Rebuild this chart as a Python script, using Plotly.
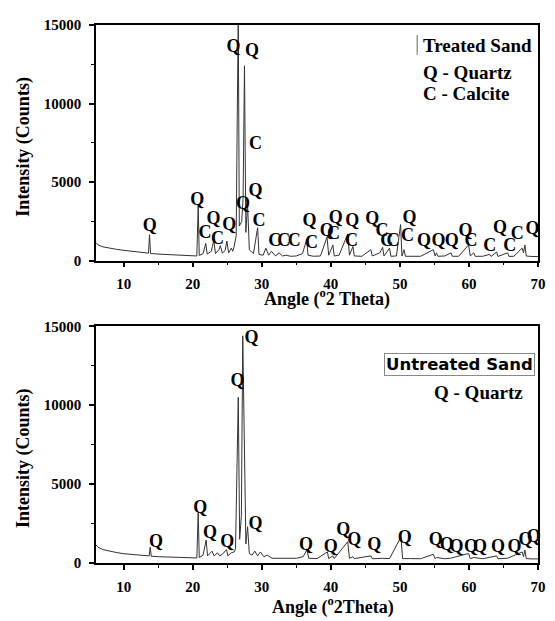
import plotly.graph_objects as go

# ---------------- data ----------------
treated_angle = [6.0, 6.3, 7.0, 8.0, 9.0, 10.0, 11.0, 12.0, 13.0, 13.6, 13.75, 13.9, 15.0, 16.5, 18.0, 19.5,
                 20.6, 20.8, 20.95, 21.5, 21.9, 22.1, 22.7, 23.05, 23.3, 23.8, 24.0, 24.3, 24.7, 24.95, 25.2,
                 25.6, 25.8, 26.0, 26.3, 26.45, 26.6, 26.75, 27.1, 27.3, 27.5, 27.7, 27.95, 28.2, 28.8, 29.4,
                 29.6, 30.2, 30.6, 31.0, 31.4, 32.0, 32.5, 33.0, 33.5, 34.2, 35.0, 35.9, 36.5, 36.7, 37.5,
                 38.5, 39.45, 39.7, 40.3, 40.5, 41.2, 42.45, 42.7, 43.2, 43.4, 44.5, 45.8, 46.0, 47.1, 47.5,
                 47.7, 48.5, 48.7, 49.5, 50.1, 50.3, 50.6, 50.8, 52.0, 53.0, 54.85, 55.1, 55.3, 55.5, 56.5,
                 57.4, 57.6, 58.5, 59.95, 60.2, 60.7, 60.9, 62.0, 63.0, 63.2, 64.0, 64.2, 65.6, 65.8, 66.5,
                 67.7, 67.9, 68.1, 68.3, 69.0, 70.0]
treated_counts = [1150, 1000, 880, 790, 720, 660, 600, 550, 500, 480, 1650, 460, 420, 380, 340, 310,
                  300, 3500, 330, 450, 1100, 420, 600, 1300, 450, 700, 950, 480, 650, 1250, 500,
                  800, 600, 900, 1600, 9000, 15500, 2200, 2500, 4000, 12400, 1800, 3600, 700, 450, 2100,
                  400, 350, 800, 350, 600, 300, 500, 300, 350, 280, 300, 450, 1350, 350, 280,
                  300, 1500, 350, 1000, 300, 350, 1700, 350, 900, 300, 280, 700, 300, 500, 850,
                  300, 800, 280, 300, 2300, 300, 700, 280, 300, 280, 700, 300, 500, 280, 300,
                  500, 280, 280, 1000, 300, 500, 280, 280, 400, 270, 550, 270, 500, 270, 280,
                  800, 500, 1000, 300, 270, 260]

untreated_angle = [6.0, 6.3, 7.0, 8.0, 9.0, 10.0, 11.0, 12.0, 13.0, 13.7, 13.85, 14.0, 15.0, 16.5, 18.0, 19.5,
                   20.6, 20.8, 20.95, 21.5, 21.95, 22.15, 22.8, 23.1, 23.6, 23.9, 24.3, 24.9, 25.1, 25.6,
                   26.0, 26.2, 26.4, 26.6, 26.8, 27.05, 27.25, 27.45, 27.7, 27.95, 28.2, 28.6, 29.0, 29.4,
                   29.8, 30.3, 30.8, 31.5, 32.5, 33.5, 35.0, 36.0, 36.55, 36.8, 38.0, 39.5, 39.7, 40.3,
                   40.5, 42.45, 42.7, 43.2, 43.4, 45.8, 46.0, 47.5, 48.5, 50.15, 50.4, 51.5, 53.0, 54.85,
                   55.1, 55.3, 56.5, 57.3, 59.95, 60.2, 60.7, 62.0, 64.0, 64.2, 65.6, 67.7, 67.9, 68.1,
                   68.3, 69.0, 70.0]
untreated_counts = [1150, 1000, 850, 740, 660, 590, 540, 500, 470, 450, 1000, 430, 400, 370, 340, 320,
                    320, 3200, 350, 500, 1450, 450, 750, 450, 650, 450, 550, 850, 450, 650,
                    700, 900, 7400, 10500, 1500, 3000, 14400, 8800, 1200, 2300, 600, 500, 750, 450,
                    700, 400, 500, 300, 300, 280, 300, 400, 850, 300, 280, 700, 280, 450,
                    280, 1350, 300, 400, 280, 450, 270, 300, 280, 1650, 280, 280, 270, 550,
                    270, 350, 270, 300, 600, 270, 350, 270, 450, 270, 300, 700, 400, 820,
                    280, 260, 260]

# peak labels: (text, angle, counts)
treated_label_text = ["Q", "Q", "C", "Q", "Q", "Q", "Q", "C", "C", "Q", "Q", "C",
                      "C", "C", "C", "C", "Q", "Q", "C", "Q", "Q", "C", "Q", "C", "C", "C",
                      "Q", "C", "Q", "Q", "Q", "Q", "C", "C", "Q", "C", "C", "Q"]
treated_label_x = [25.9, 28.6, 29.1, 13.8, 20.65, 23.0, 25.3, 21.8, 23.6, 27.3, 29.1, 29.6,
                   31.9, 33.2, 34.7, 37.2, 36.9, 39.4, 40.4, 40.7, 43.1, 43.0, 46.0, 47.4, 48.1, 49.0,
                   51.4, 51.1, 53.5, 55.6, 57.5, 59.5, 60.3, 63.0, 64.5, 65.9, 67.0, 69.2]
treated_label_y = [13600, 13300, 7400, 2150, 3860, 2650, 2250, 1700, 1330, 3550, 4430, 2470,
                   1200, 1200, 1200, 1100, 2470, 1830, 1640, 2660, 2470, 1200, 2590, 1830, 1200, 1200,
                   2660, 1520, 1200, 1200, 1200, 1830, 1200, 890, 2020, 890, 1640, 1960]

untreated_label_x = [14.7, 21.1, 22.5, 25.0, 26.5, 28.5, 29.1, 36.4, 40.0, 41.8, 43.4, 46.3, 50.7,
                     55.2, 56.8, 58.2, 60.3, 61.6, 64.2, 66.6, 68.2, 69.4]
untreated_label_y = [1320, 3470, 1890, 1320, 11530, 14240, 2460, 1130, 1010, 2080, 1450, 1130, 1580,
                     1450, 1130, 1010, 1010, 1010, 1010, 1010, 1450, 1640]

x_ticks = [10, 20, 30, 40, 50, 60, 70]
y_ticks = [0, 5000, 10000, 15000]

# ---------------- figure ----------------
SERIF = "Liberation Serif"
LINE = "#333333"

fig = go.Figure()
fig.add_trace(go.Scatter(x=treated_angle, y=treated_counts, mode="lines",
                         line=dict(color=LINE, width=1), xaxis="x", yaxis="y", showlegend=False))
fig.add_trace(go.Scatter(x=untreated_angle, y=untreated_counts, mode="lines",
                         line=dict(color=LINE, width=1), xaxis="x2", yaxis="y2", showlegend=False))

label_font = dict(family=SERIF, size=18, color="black", weight="bold")
fig.add_trace(go.Scatter(x=treated_label_x, y=treated_label_y, mode="text", text=treated_label_text,
                         textfont=label_font, xaxis="x", yaxis="y", showlegend=False, cliponaxis=False))
fig.add_trace(go.Scatter(x=untreated_label_x, y=untreated_label_y, mode="text",
                         text=["Q"] * len(untreated_label_x), textfont=label_font,
                         xaxis="x2", yaxis="y2", showlegend=False, cliponaxis=False))

tickfont = dict(family=SERIF, size=15, color="black", weight="bold")

def xax(anchor):
    return dict(range=[6, 70], tickvals=x_ticks, ticktext=[str(v) for v in x_ticks],
                showline=True, linecolor="black", linewidth=1.5, mirror=True,
                ticks="outside", ticklen=5, tickwidth=1.5, tickcolor="black", ticklabelstandoff=4,
                minor=dict(tickvals=[15, 25, 35, 45, 55, 65], ticks="outside", ticklen=3,
                           tickwidth=1, tickcolor="black"),
                showgrid=False, zeroline=False, tickfont=tickfont, anchor=anchor)

def yax(anchor, domain):
    return dict(range=[0, 15000], tickvals=y_ticks, ticktext=[str(v) for v in y_ticks],
                domain=domain, showline=True, linecolor="black", linewidth=1.5, mirror=True,
                ticks="outside", ticklen=5, tickwidth=1.5, tickcolor="black", ticklabelstandoff=5,
                minor=dict(tickvals=[2500, 7500, 12500], ticks="outside", ticklen=3,
                           tickwidth=1, tickcolor="black"),
                showgrid=False, zeroline=False, tickfont=tickfont, anchor=anchor)

# the page body adds an 8px offset; figure is drawn at (8, 8)
OFF = 8
FW, FH = 555 - OFF, 621 - OFF
T, B, L, R = 22 - OFF, 58, 96 - OFF, 9
H = FH - T - B
W = FW - L - R

def py(p):
    return (FH - B - (p - OFF)) / H

def px(p):
    return (p - OFF - L) / W

fig.update_layout(
    width=FW, height=FH,
    margin=dict(l=L, r=R, t=T, b=B),
    paper_bgcolor="white", plot_bgcolor="white",
    xaxis=xax("y"),
    yaxis=yax("x", [py(259), 1.0]),
    xaxis2=xax("y2"),
    yaxis2=yax("x2", [0.0, py(325)]),
    showlegend=False,
)

title_font = dict(family=SERIF, size=18, color="black", weight="bold")
ann = []
def add(text, x, y, font, xanchor="center", **kw):
    ann.append(dict(text=text, x=px(x), y=py(y), xref="paper", yref="paper", xanchor=xanchor,
                    yanchor="middle", showarrow=False, font=font, **kw))

add("Intensity (Counts)", 22, 144, title_font, textangle=-90)
add("Intensity (Counts)", 22, 457, title_font, textangle=-90)
add("Angle (<sup>o</sup>2 Theta)", 331, 297, title_font)
add("Angle (<sup>o</sup>2Theta)", 337, 606, title_font)

leg_font = dict(family=SERIF, size=19, color="black", weight="bold")
add("Treated Sand", 427, 43, leg_font, xanchor="left")
add("Q - Quartz", 427, 70, leg_font, xanchor="left")
add("C - Calcite", 427, 91, leg_font, xanchor="left")
add("Untreated Sand", 466, 363, dict(family="DejaVu Sans", size=16.5, color="black", weight="bold"),
    bordercolor="#888888", borderwidth=1, borderpad=1)
add("Q - Quartz", 485, 392, leg_font)

fig.update_layout(annotations=ann)
fig.add_shape(type="line", xref="paper", yref="paper", x0=px(423), x1=px(423), y0=py(52), y1=py(32),
              line=dict(color="#666666", width=1))

fig.write_html("out.html")
